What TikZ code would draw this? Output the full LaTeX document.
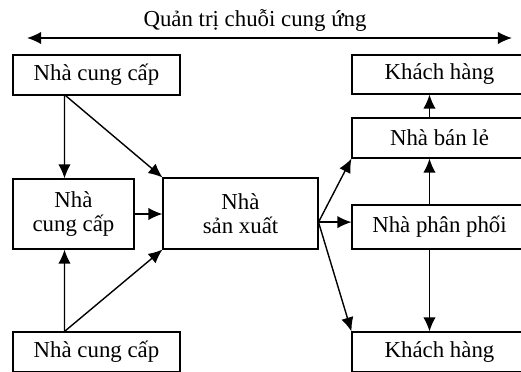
\documentclass[tikz,border=0pt]{standalone}
\usepackage{fontspec}
\setmainfont{Liberation Serif}
\usetikzlibrary{arrows.meta,calc}

\begin{document}
\begin{tikzpicture}[x=0.02cm,y=-0.02cm,
  box/.style={draw,line width=0.6pt,align=center,inner sep=0pt,font=\fontsize{13}{13.5}\selectfont},
  arr/.style={line width=0.8pt,-{Latex[length=8pt,width=7pt]}}]
% frame of the picture, one unit is one pixel
\useasboundingbox (0,0) rectangle (521,372);
\clip (0,0) rectangle (521,371.3);

% title and the long two-headed arrow
\node[font=\fontsize{13}{16}\selectfont] (title) at (255,20) {Quản trị chuỗi cung ứng};
\coordinate (L) at (27,38);
\coordinate (R) at (512,38);
\draw[line width=0.8pt,{Latex[length=8pt,width=7pt]}-{Latex[length=8pt,width=7pt]}] (L) -- (R);

% suppliers
\node[box, minimum width=3.34cm, minimum height=0.8cm] (ncc1) at (96.5,75) {Nhà cung cấp};
\node[box, minimum width=2.42cm, minimum height=1.4cm] (ncc2) at (73.5,214) {Nhà\\cung cấp};
\node[box, minimum width=3.34cm, minimum height=0.8cm] (ncc3) at (96.5,352) {Nhà cung cấp};

% manufacturer
\node[box, minimum width=3.1cm, minimum height=1.42cm] (sx) at (240.5,213.5) {Nhà\\sản xuất};

% customers, retailer, distributor
\node[box, minimum width=3.5cm, minimum height=0.78cm] (kh1) at (439.5,74.5) {Khách hàng};
\node[box, minimum width=3.5cm, minimum height=0.8cm] (nbl) at (439.5,138) {Nhà bán lẻ};
\node[box, minimum width=3.5cm, minimum height=0.88cm] (npp) at (439.5,227) {Nhà phân phối};
\node[box, minimum width=3.5cm, minimum height=0.8cm] (kh2) at (439.5,352) {Khách hàng};

% left side arrows
\draw[arr] ($(ncc1.south west)+(52,0)$) -- ($(ncc2.north west)+(52,0)$);
\draw[arr] ($(ncc1.south west)+(53,0)$) -- (sx.north west);
\draw[arr] (ncc2.east) -- (ncc2.east -| sx.west);
\draw[arr] ($(ncc3.north west)+(52,0)$) -- ($(ncc2.south west)+(52,0)$);
\draw[arr] ($(ncc3.north west)+(52,0)$) -- (sx.south west);

% right side arrows
\coordinate (hub) at ($(sx.north east)!0.62!(sx.south east)$);
\draw[arr] (hub) -- (nbl.south west);
\draw[arr] (hub) -- (hub -| npp.west);
\draw[arr] (hub) -- (kh2.north west);
\draw[arr] ($(npp.north west)+(78,0)$) -- ($(nbl.south west)+(78,0)$);
\draw[arr] ($(npp.south west)+(78,0)$) -- ($(kh2.north west)+(78,0)$);
\draw[arr] ($(nbl.north west)+(78,0)$) -- ($(kh1.south west)+(78,0)$);
\end{tikzpicture}
\end{document}
